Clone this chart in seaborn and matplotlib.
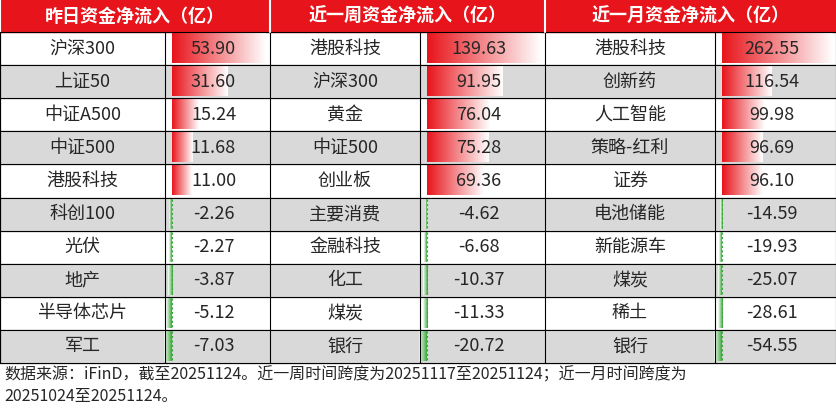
import matplotlib
matplotlib.use("Agg")
import matplotlib.pyplot as plt
import numpy as np
import seaborn as sns

sns.set_style("white")
plt.rcParams['font.family'] = ['Noto Sans CJK SC', 'DejaVu Sans']

headers = ["昨日资金净流入（亿）", "近一周资金净流入（亿）", "近一月资金净流入（亿）"]
names1 = ["沪深300", "上证50", "中证A500", "中证500", "港股科技", "科创100", "光伏", "地产", "半导体芯片", "军工"]
vals1 = [53.90, 31.60, 15.24, 11.68, 11.00, -2.26, -2.27, -3.87, -5.12, -7.03]
names2 = ["港股科技", "沪深300", "黄金", "中证500", "创业板", "主要消费", "金融科技", "化工", "煤炭", "银行"]
vals2 = [139.63, 91.95, 76.04, 75.28, 69.36, -4.62, -6.68, -10.37, -11.33, -20.72]
names3 = ["港股科技", "创新药", "人工智能", "策略-红利", "证券", "电池储能", "新能源车", "煤炭", "稀土", "银行"]
vals3 = [262.55, 116.54, 99.98, 96.69, 96.10, -14.59, -19.93, -25.07, -28.61, -54.55]
footer = ("数据来源：iFinD，截至20251124。近一周时间跨度为20251117至20251124；近一月时间跨度为\n"
          "20251024至20251124。")

W, H = 837, 416
fig = plt.figure(figsize=(W/100, H/100), dpi=100)
ax = fig.add_axes([0, 0, 1, 1])
ax.set_xlim(0, W); ax.set_ylim(H, 0); ax.axis("off")

cols = [(0, 165, 270), (270, 420, 545), (545, 715, 837)]
hh, rh = 32, 33.1
red = "#e8141b"
ax.add_patch(plt.Rectangle((0, 0), W, hh, color=red, zorder=1))
for (a, b, c), h in zip(cols, headers):
    ax.text((a+c)/2, hh/2, h, color="white", fontsize=13, fontweight="bold", ha="center", va="center", zorder=5)

redmap = matplotlib.colors.LinearSegmentedColormap.from_list("r", [red, "#ffffff"])
greenmap = matplotlib.colors.LinearSegmentedColormap.from_list("g", ["#ffffff", "#3aa83a"])
grad = np.linspace(0, 1, 256).reshape(1, -1)

for (a, b, c), names, vals in zip(cols, [names1, names2, names3], [vals1, vals2, vals3]):
    vmax, vmin = max(vals), min(vals)
    axis_x = b + 7
    pscale = (c - 4 - axis_x) / vmax
    nscale = 8 / abs(vmin)
    for i, (n, v) in enumerate(zip(names, vals)):
        y = hh + i * rh
        if i % 2 == 1:
            ax.add_patch(plt.Rectangle((0, y), W, rh, color="#d9d9d9", zorder=0))
        bt, bb = y + 2, y + rh - 2
        if v >= 0:
            ax.imshow(grad, cmap=redmap, extent=(axis_x, axis_x + v*pscale, bb, bt), aspect="auto", zorder=2)
        else:
            ax.imshow(grad, cmap=greenmap, extent=(axis_x + v*nscale, axis_x, bb, bt), aspect="auto", zorder=2)
            ax.plot([axis_x, axis_x], [y+1, y+rh-1], color="#3aa83a", lw=0.8, ls=(0, (2, 2)), zorder=3)
        ax.text((a+b)/2, y + rh/2, n, fontsize=13, ha="center", va="center", zorder=5)
        ax.text((b+c)/2 - 4, y + rh/2, f"{v:.2f}", fontsize=13, ha="center", va="center", zorder=5)

bottom = hh + 10*rh
for i in range(11):
    ax.plot([0, W], [hh + i*rh]*2, color="black", lw=0.8, zorder=4)
for a, b, c in cols:
    for x in (a, b):
        ax.plot([x, x], [hh, bottom], color="black", lw=0.8, zorder=4)
    ax.plot([a, a], [0, hh], color="white", lw=1.5, zorder=4)
ax.plot([W-0.5]*2, [hh, bottom], color="black", lw=0.8, zorder=4)
ax.plot([0.5]*2, [hh, bottom], color="black", lw=0.8, zorder=4)

ax.text(4, bottom + 3, footer, fontsize=11.5, style="italic", ha="left", va="top", linespacing=1.4)
fig.savefig("out.png", dpi=100)
